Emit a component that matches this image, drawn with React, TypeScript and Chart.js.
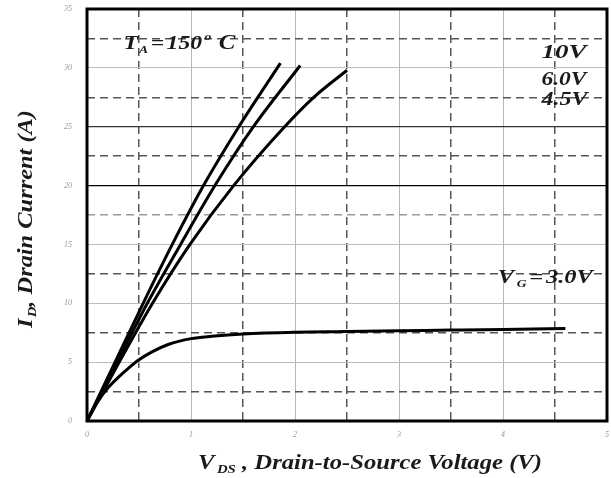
import { useEffect, useRef } from 'react';
import { Chart, registerables } from 'chart.js';

Chart.register(...registerables);

// V_GS = 10 V
const vds10 = [0, 0.27, 0.54, 0.82, 1.12, 1.46, 1.86];
const id10 = [0, 5, 10, 15, 20, 25, 30.4];
// V_GS = 6.0 V
const vds6 = [0, 0.29, 0.58, 0.9, 1.23, 1.6, 2.05];
const id6 = [0, 5, 10, 15, 20, 25, 30.2];
// V_GS = 4.5 V
const vds45 = [0, 0.31, 0.63, 0.99, 1.41, 1.9, 2.18, 2.5];
const id45 = [0, 5, 10, 15, 20, 25, 27.5, 29.8];
// V_GS = 3.0 V
const vds3 = [0, 0.1, 0.2, 0.3, 0.4, 0.5, 0.62, 0.78, 1.0, 1.2, 1.5, 2.0, 2.5, 3.0, 3.5, 4.0, 4.6];
const id3 = [0, 1.6, 2.8, 3.7, 4.5, 5.2, 5.85, 6.5, 7.0, 7.2, 7.4, 7.55, 7.6, 7.66, 7.72, 7.78, 7.85];

const xTickLabels = ['0', '1', '2', '3', '4', '5'];
const yTickLabels = ['0', '5', '10', '15', '20', '25', '30', '35'];

const curveLabels = ['10V', '6.0V', '4.5V'];
const FONT = "'Liberation Serif', 'DejaVu Serif', serif";

type Seg = { t: string; size: number; dy?: number; gap?: number };

// draws a run of text segments starting at (x, y), stretched horizontally to width w
function drawSegs(ctx: CanvasRenderingContext2D, segs: Seg[], x: number, y: number, w: number) {
  let total = 0;
  const widths = segs.map((s) => {
    ctx.font = `italic bold ${s.size}px ${FONT}`;
    const mw = ctx.measureText(s.t).width + (s.gap || 0);
    total += mw;
    return mw;
  });
  ctx.save();
  ctx.translate(x, y);
  ctx.scale(w / total, 1);
  let cx = 0;
  segs.forEach((s, i) => {
    ctx.font = `italic bold ${s.size}px ${FONT}`;
    ctx.fillText(s.t, cx, s.dy || 0);
    cx += widths[i];
  });
  ctx.restore();
}

const textPlugin = {
  id: 'textPlugin',
  afterDatasetsDraw(chart: any) {
    const { ctx, chartArea } = chart;
    const xs = chart.scales.x;
    const ys = chart.scales.y;
    ctx.save();
    // frame
    ctx.strokeStyle = '#000';
    ctx.lineWidth = 3;
    ctx.strokeRect(chartArea.left, chartArea.top, chartArea.right - chartArea.left, chartArea.bottom - chartArea.top);

    ctx.fillStyle = '#1a1a1a';
    ctx.textBaseline = 'alphabetic';
    ctx.textAlign = 'left';
    // T_A = 150 °C
    drawSegs(ctx, [
      { t: 'T', size: 19, gap: 1 },
      { t: 'A', size: 11, dy: 4, gap: 2 },
      { t: '=', size: 19, gap: 2 },
      { t: '150', size: 19, gap: 2 },
      { t: 'o', size: 11, dy: -9, gap: 6 },
      { t: 'C', size: 20 },
    ], xs.getPixelForValue(0.35), ys.getPixelForValue(31.6), 112);

    const lx = xs.getPixelForValue(4.37);
    drawSegs(ctx, [{ t: curveLabels[0], size: 18 }], lx, ys.getPixelForValue(30.85), 45);
    drawSegs(ctx, [{ t: curveLabels[1], size: 18 }], lx, ys.getPixelForValue(28.55), 45);
    drawSegs(ctx, [{ t: curveLabels[2], size: 18 }], lx, ys.getPixelForValue(26.85), 46);
    drawSegs(ctx, [
      { t: 'V', size: 18, gap: 2 },
      { t: 'G', size: 10, dy: 4, gap: 2 },
      { t: '=', size: 18, gap: 2 },
      { t: '3.0V', size: 18 },
    ], xs.getPixelForValue(3.95), ys.getPixelForValue(11.7), 95);

    // x title
    drawSegs(ctx, [
      { t: 'V', size: 20, gap: 2 },
      { t: 'DS', size: 12, dy: 4 },
      { t: ' , Drain-to-Source Voltage (V)', size: 20 },
    ], 198, 469, 344);

    // y title
    ctx.translate(32, 328);
    ctx.rotate(-Math.PI / 2);
    drawSegs(ctx, [
      { t: 'I', size: 20, gap: 1 },
      { t: 'D', size: 12, dy: 4 },
      { t: ', Drain Current (A)', size: 20 },
    ], 0, 0, 218);
    ctx.restore();
  },
};

export default function App() {
  const ref = useRef<HTMLCanvasElement>(null);
  useEffect(() => {
    if (!ref.current) return;
    const pts = (xs: number[], ys: number[]) => xs.map((x, i) => ({ x, y: ys[i] }));
    const line = (data: { x: number; y: number }[]) => ({
      data,
      showLine: true,
      borderColor: '#000',
      borderWidth: 3,
      pointRadius: 0,
      cubicInterpolationMode: 'monotone' as const,
    });
    const xGrid = (v: number) => {
      if (v <= 0 || v >= 5) return { c: 'rgba(0,0,0,0)', w: 1, d: [] as number[] };
      if (Number.isInteger(v)) return { c: '#b9b4c6', w: 1, d: [] as number[] };
      return { c: '#555', w: 1.5, d: [8, 5] };
    };
    const yGrid = (v: number) => {
      if (v <= 0 || v >= 35) return { c: 'rgba(0,0,0,0)', w: 1, d: [] as number[] };
      if (v === 20) return { c: '#000', w: 1.2, d: [] as number[] };
      if (v === 25) return { c: '#333', w: 1.2, d: [] as number[] };
      if (v % 5 === 0) return { c: '#bdbdb4', w: 1, d: [] as number[] };
      if (v === 17.5) return { c: '#9a9a9a', w: 1.5, d: [8, 5] };
      return { c: '#555', w: 1.5, d: [8, 5] };
    };
    const tickFont = { family: FONT, style: 'italic' as const, size: 8 };
    const zeroPad = (s: any) => {
      s.paddingTop = 0;
      s.paddingBottom = 0;
      s.paddingLeft = 0;
      s.paddingRight = 0;
    };
    const chart = new Chart(ref.current, {
      type: 'scatter',
      data: {
        datasets: [
          line(pts(vds10, id10)),
          line(pts(vds6, id6)),
          line(pts(vds45, id45)),
          line(pts(vds3, id3)),
        ],
      },
      options: {
        responsive: false,
        animation: false,
        layout: { padding: { left: 0, top: 9, right: 4, bottom: 0 } },
        plugins: { legend: { display: false }, tooltip: { enabled: false } },
        scales: {
          x: {
            type: 'linear',
            min: 0,
            max: 5,
            afterFit: (s: any) => { s.height = 57; zeroPad(s); },
            ticks: {
              stepSize: 0.5,
              autoSkip: false,
              maxRotation: 0,
              padding: 9,
              color: '#9a9a9a',
              font: tickFont,
              callback: (v: any) => (Number.isInteger(v) ? xTickLabels[v] : ''),
            },
            grid: {
              drawTicks: false,
              color: (c: any) => xGrid(c.tick.value).c,
              lineWidth: (c: any) => xGrid(c.tick.value).w,
            },
            border: { display: false, dash: (c: any) => xGrid(c.tick.value).d },
          },
          y: {
            type: 'linear',
            min: 0,
            max: 35,
            afterFit: (s: any) => { s.width = 87; zeroPad(s); },
            ticks: {
              stepSize: 2.5,
              autoSkip: false,
              padding: 15,
              color: '#9a9a9a',
              font: tickFont,
              callback: (v: any) => (v % 5 === 0 ? yTickLabels[v / 5] : ''),
            },
            grid: {
              drawTicks: false,
              color: (c: any) => yGrid(c.tick.value).c,
              lineWidth: (c: any) => yGrid(c.tick.value).w,
            },
            border: { display: false, dash: (c: any) => yGrid(c.tick.value).d },
          },
        },
      },
      plugins: [textPlugin],
    });
    return () => chart.destroy();
  }, []);
  return (
    <div style={{ position: 'fixed', left: 0, top: 0, width: 611, height: 478, background: '#fff' }}>
      <canvas ref={ref} width={611} height={478} />
    </div>
  );
}
